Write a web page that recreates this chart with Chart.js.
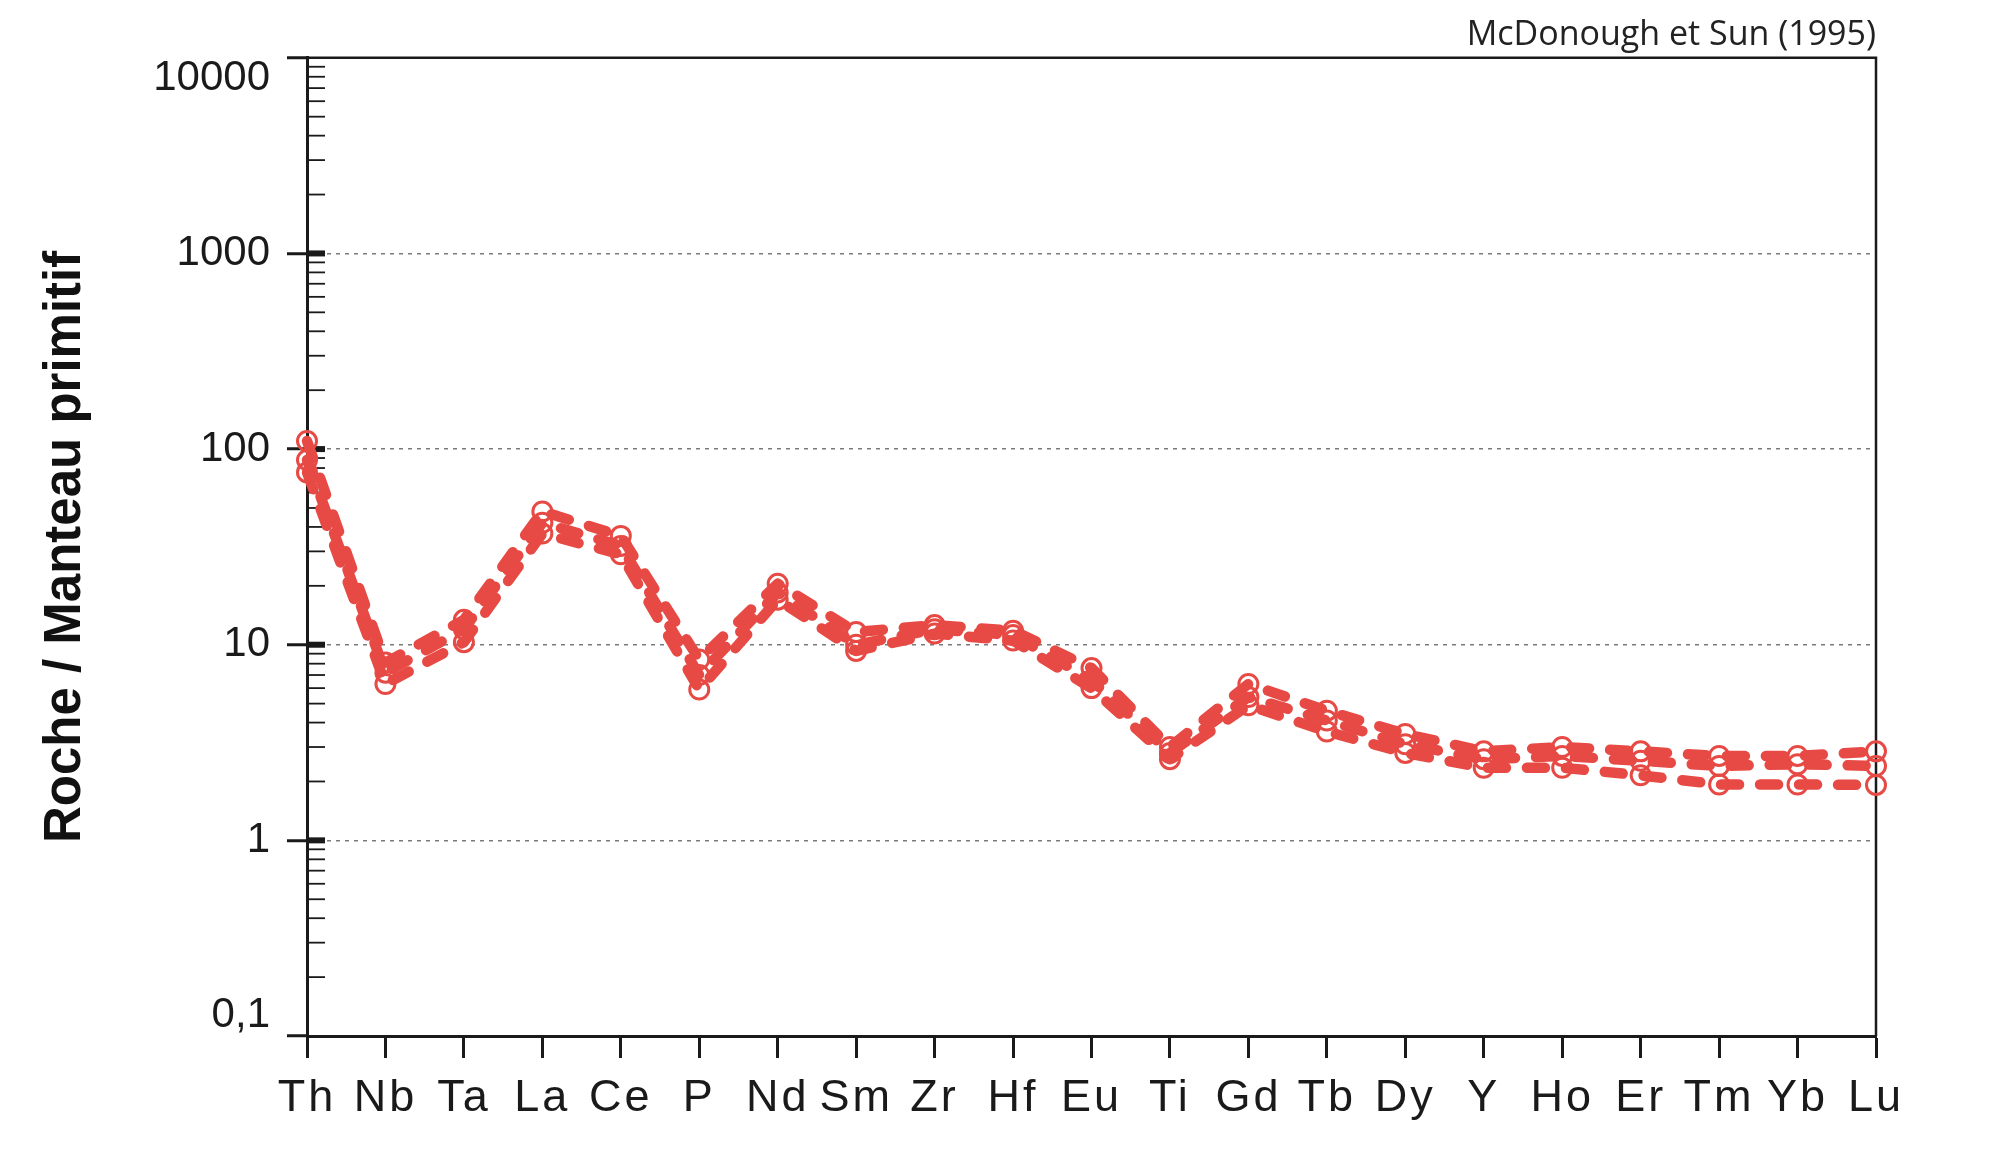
<!DOCTYPE html>
<html>
<head>
<meta charset="utf-8">
<script src="https://cdn.jsdelivr.net/npm/chart.js@4"></script>
<style>
    body { margin: 0; background: #fff; }
    canvas { display: block; }
</style>
</head>
<body>
<canvas id="spiderChart" width="2000" height="1157"></canvas>
<script>
// elements (x categories)
const elements = ['Th', 'Nb', 'Ta', 'La', 'Ce', 'P', 'Nd', 'Sm', 'Zr', 'Hf', 'Eu', 'Ti', 'Gd', 'Tb', 'Dy', 'Y', 'Ho', 'Er', 'Tm', 'Yb', 'Lu'];

// rock / primitive mantle, three samples
const sampleA = [110, 8.1, 13.4, 48, 36, 8.4, 20.5, 11.6, 12.6, 11.8, 7.6, 3.0, 6.3, 4.6, 3.5, 2.85, 3.0, 2.85, 2.7, 2.7, 2.85];
const sampleB = [88, 7.2, 12, 42, 32, 7.0, 18.5, 10, 12, 11.2, 6.6, 2.8, 5.4, 4.1, 3.1, 2.6, 2.7, 2.55, 2.4, 2.45, 2.4];
const sampleC = [76, 6.3, 10.3, 37, 29, 5.9, 17, 9.3, 11.4, 10.5, 6.0, 2.6, 4.9, 3.6, 2.8, 2.35, 2.35, 2.15, 1.93, 1.93, 1.92];

// y axis decades
const decades = [0.1, 1, 10, 100, 1000, 10000];

const RED = 'rgb(231, 74, 68)';

function isDecade(v) {
    let l = Math.log10(v);
    return Math.abs(l - Math.round(l)) < 1e-6;
}

function isEnd(v) {
    return Math.abs(v - decades[0]) < 1e-9 || Math.abs(v - decades[decades.length - 1]) < 1e-6;
}

// 1..9 ticks in every decade
function logTicks() {
    let ticks = [];
    for (let i = 0; i < decades.length - 1; i++) {
        for (let k = 1; k < 10; k++) {
            ticks.push({value: +(decades[i] * k).toPrecision(6)});
        }
    }
    ticks.push({value: decades[decades.length - 1]});
    return ticks;
}

function makeDataset(values) {
    return {
        data: values,
        borderColor: RED,
        borderWidth: 10.5,
        borderDash: [18, 21],
        borderCapStyle: 'round',
        borderJoinStyle: 'round',
        pointRadius: 9.5,
        pointBorderWidth: 3,
        pointBorderColor: RED,
        pointBackgroundColor: 'rgba(255,255,255,0)',
        tension: 0,
        clip: false
    };
}

// frame, inner tick marks, spaced x labels
const framePlugin = {
    id: 'frame',
    beforeDatasetsDraw(chart) {
        const ctx = chart.ctx;
        const area = chart.chartArea;
        const y = chart.scales.y;
        ctx.save();
        ctx.strokeStyle = '#1a1a1a';
        for (let t of y.ticks) {
            if (isEnd(t.value)) continue;
            let py = y.getPixelForValue(t.value);
            ctx.lineWidth = isDecade(t.value) ? 6 : 1.8;
            ctx.beginPath();
            ctx.moveTo(area.left, py);
            ctx.lineTo(area.left + 18, py);
            ctx.stroke();
        }
        ctx.lineWidth = 2.5;
        ctx.beginPath();
        ctx.moveTo(area.left, area.top);
        ctx.lineTo(area.right, area.top);
        ctx.lineTo(area.right, area.bottom);
        ctx.stroke();
        ctx.restore();
    },
    afterDatasetsDraw(chart) {
        chart.ctx.letterSpacing = '3px';
    },
    afterDraw(chart) {
        chart.ctx.letterSpacing = '0px';
    }
};

Chart.defaults.font.family = "'Liberation Sans', Arial, sans-serif";
Chart.defaults.color = '#1a1a1a';

const ctx = document.getElementById('spiderChart');
let spiderChart = new Chart(ctx, {
    type: 'line',
    data: {
        labels: elements,
        datasets: [makeDataset(sampleA), makeDataset(sampleB), makeDataset(sampleC)]
    },
    options: {
        responsive: false,
        animation: false,
        layout: {
            padding: {left: 0, right: 124, top: 0, bottom: 0}
        },
        scales: {
            x: {
                offset: false,
                afterFit: (scale) => { scale.height = 121; },
                grid: {
                    drawOnChartArea: false,
                    drawTicks: true,
                    tickLength: 22,
                    tickWidth: 3,
                    tickColor: '#1a1a1a'
                },
                border: {color: '#1a1a1a', width: 3},
                ticks: {
                    autoSkip: false,
                    maxRotation: 0,
                    padding: 14,
                    z: 1,
                    color: '#1a1a1a',
                    font: {size: 45}
                }
            },
            y: {
                type: 'logarithmic',
                min: 0.1,
                max: 10000,
                afterFit: (scale) => { scale.width = 307; },
                afterBuildTicks: (scale) => { scale.ticks = logTicks(); },
                grid: {
                    drawTicks: true,
                    tickLength: 20,
                    tickWidth: 3,
                    lineWidth: 1.5,
                    color: (c) => (c.tick && isDecade(c.tick.value) && !isEnd(c.tick.value)) ? '#7a7a7a' : 'rgba(0,0,0,0)',
                    tickColor: (c) => (c.tick && isDecade(c.tick.value)) ? '#1a1a1a' : 'rgba(0,0,0,0)'
                },
                border: {color: '#1a1a1a', width: 3, dash: [4, 5]},
                ticks: {
                    autoSkip: false,
                    padding: 17,
                    color: '#1a1a1a',
                    font: {size: 42, lineHeight: 0.97},
                    callback: function (value) {
                        if (!isDecade(value)) return '';
                        let txt = String(value).replace('.', ',');
                        if (value >= 10000) return ['', txt];
                        if (value <= 0.1) return [txt, ''];
                        return txt;
                    }
                },
                title: {
                    display: true,
                    text: 'Roche / Manteau primitif',
                    color: '#111',
                    font: {size: 51, weight: 'bold'},
                    padding: {top: 35, bottom: 0}
                }
            }
        },
        plugins: {
            legend: {display: false},
            tooltip: {enabled: false},
            title: {
                display: true,
                text: 'McDonough et Sun (1995)',
                align: 'end',
                color: '#222',
                font: {family: "'Open Sans', sans-serif", size: 34, weight: 'normal'},
                padding: {top: 15, bottom: 2}
            }
        }
    },
    plugins: [framePlugin]
});
</script>
</body>
</html>
